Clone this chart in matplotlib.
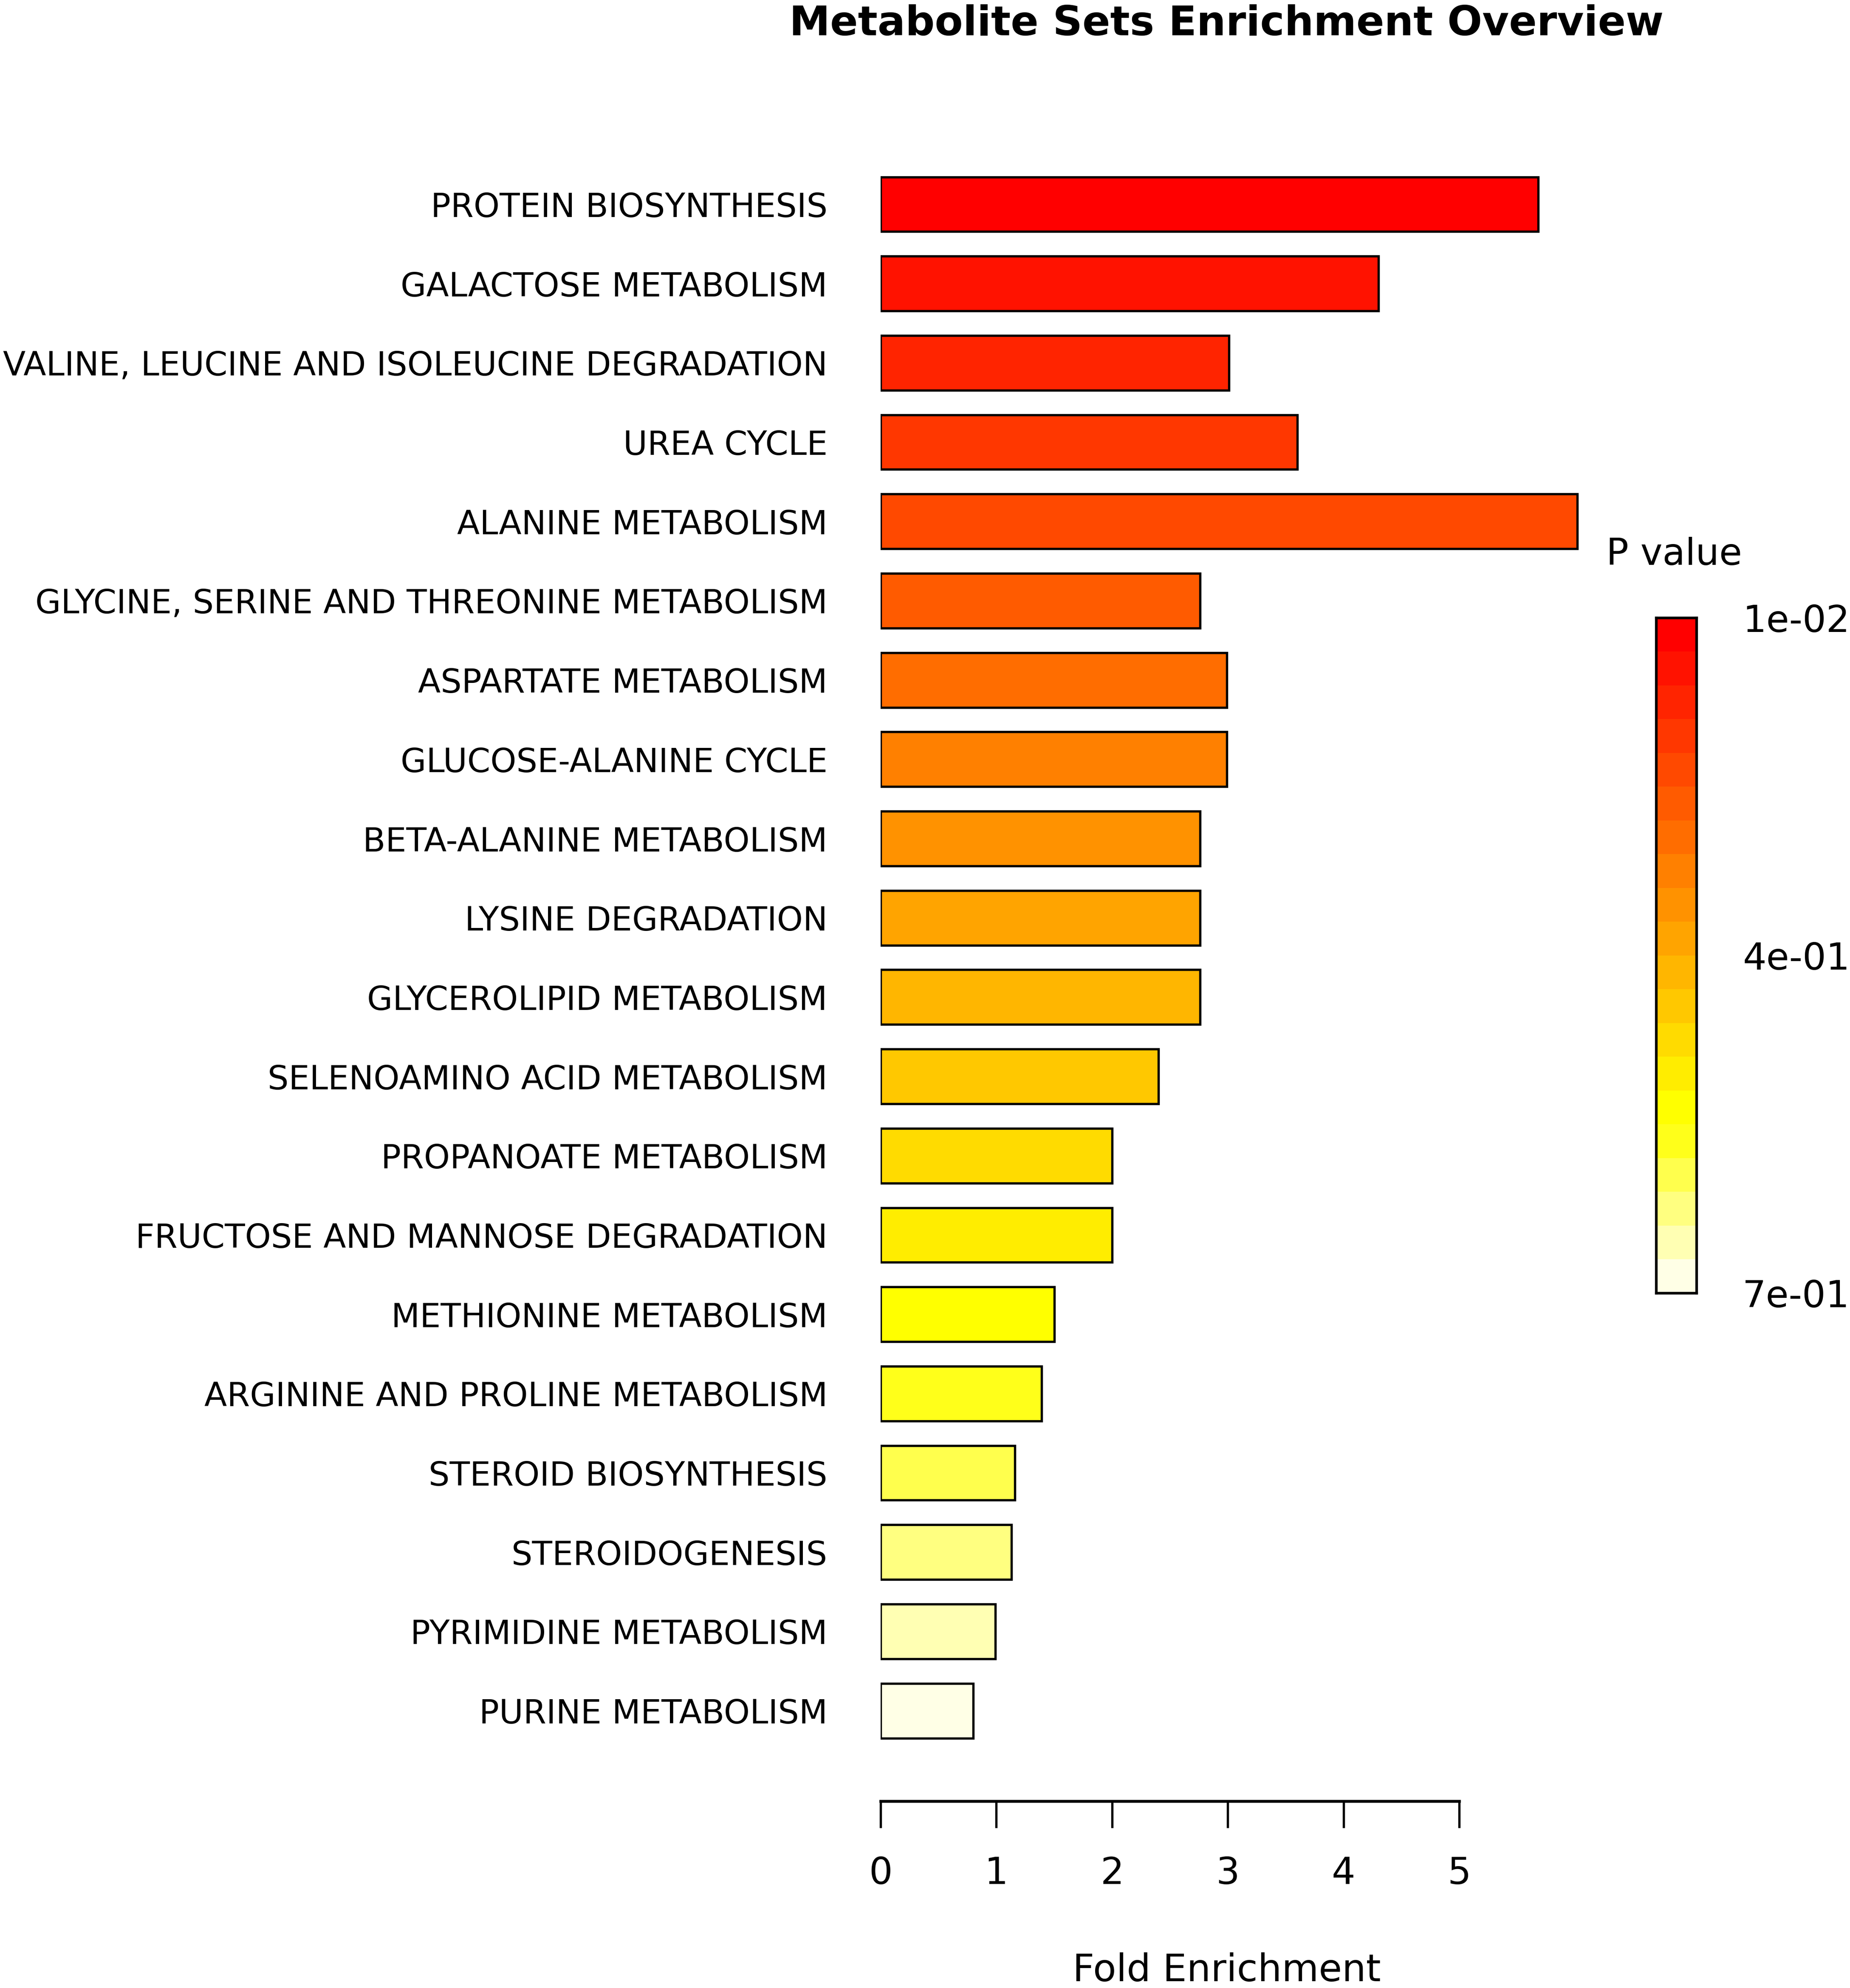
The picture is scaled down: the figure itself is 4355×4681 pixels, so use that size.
import matplotlib
matplotlib.use("Agg")
import matplotlib.pyplot as plt

# data (top to bottom)
pathways = [
    "PROTEIN BIOSYNTHESIS", "GALACTOSE METABOLISM",
    "VALINE, LEUCINE AND ISOLEUCINE DEGRADATION", "UREA CYCLE",
    "ALANINE METABOLISM", "GLYCINE, SERINE AND THREONINE METABOLISM",
    "ASPARTATE METABOLISM", "GLUCOSE-ALANINE CYCLE", "BETA-ALANINE METABOLISM",
    "LYSINE DEGRADATION", "GLYCEROLIPID METABOLISM", "SELENOAMINO ACID METABOLISM",
    "PROPANOATE METABOLISM", "FRUCTOSE AND MANNOSE DEGRADATION",
    "METHIONINE METABOLISM", "ARGININE AND PROLINE METABOLISM",
    "STEROID BIOSYNTHESIS", "STEROIDOGENESIS", "PYRIMIDINE METABOLISM",
    "PURINE METABOLISM",
]
fold_enrichment = [5.68, 4.30, 3.01, 3.60, 6.02, 2.76, 2.99, 2.99, 2.76, 2.76,
                   2.76, 2.40, 2.00, 2.00, 1.50, 1.39, 1.16, 1.13, 0.99, 0.80]
x_ticks = [0, 1, 2, 3, 4, 5]
pval_labels = ["1e-02", "4e-01", "7e-01"]

# R heat.colors(20), one per bar, ordered by p value
HEAT = ["#FF0000", "#FF1200", "#FF2400", "#FF3700", "#FF4900", "#FF5B00",
        "#FF6D00", "#FF8000", "#FF9200", "#FFA400", "#FFB600", "#FFC800",
        "#FFDB00", "#FFED00", "#FFFF00", "#FFFF1A", "#FFFF4D", "#FFFF80",
        "#FFFFB3", "#FFFFE6"]

W, H, DPI = 4355, 4681, 300
plt.rcParams["font.family"] = "DejaVu Sans"
fig = plt.figure(figsize=(W / DPI, H / DPI), dpi=DPI)

# main bar axes: left edge at x=0, bottom at the axis line
ax = fig.add_axes([0.4760, 0.0940, 0.3942, 0.8419])
ypos = list(range(len(pathways)))
ax.barh(ypos, fold_enrichment, height=0.69, color=HEAT,
        edgecolor="black", linewidth=1.3, zorder=3)
ax.set_xlim(0, 6.3)
ax.set_ylim(20.14, -0.969)
for s in ("top", "right", "left"):
    ax.spines[s].set_visible(False)
ax.spines["bottom"].set_bounds(0, 5)
ax.spines["bottom"].set_linewidth(1.6)
ax.set_xticks(x_ticks)
ax.set_xticklabels([str(t) for t in x_ticks], fontsize=21)
ax.tick_params(axis="x", length=15, width=1.3, pad=16)
ax.set_yticks(ypos)
ax.set_yticklabels(pathways, fontsize=18.7)
ax.tick_params(axis="y", length=0, pad=30)

fig.text(0.6629, 0.9880, "Metabolite Sets Enrichment Overview",
         fontsize=23.2, fontweight="bold", ha="center", va="center")
fig.text(0.6632, 0.0034, "Fold Enrichment", fontsize=21.4,
         ha="center", va="baseline")
fig.text(0.8683, 0.7210, "P value", fontsize=21, ha="left", va="center")

# colour key
cax = fig.add_axes([0.8953, 0.3495, 0.0218, 0.3397])
n = len(HEAT)
for i, c in enumerate(HEAT):
    cax.axhspan(n - i - 1, n - i, color=c, lw=0)
cax.set_ylim(0, n)
cax.set_xlim(0, 1)
cax.set_xticks([])
for s in cax.spines.values():
    s.set_linewidth(1.5)
cax.yaxis.tick_right()
cax.set_yticks([n, n / 2, 0])
cax.set_yticklabels(pval_labels, fontsize=21)
cax.tick_params(axis="y", length=0, pad=26)

fig.savefig("out.png", dpi=DPI)
